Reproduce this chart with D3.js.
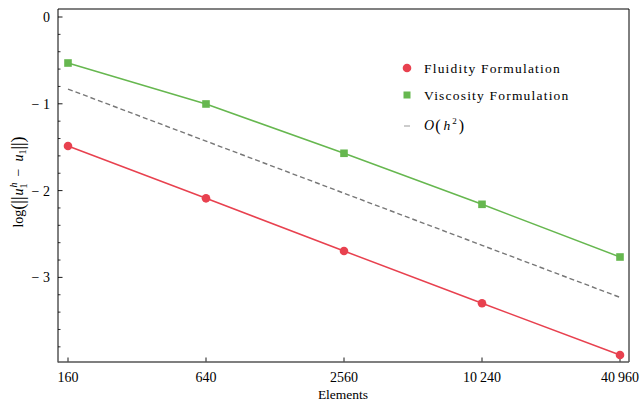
<!DOCTYPE html>
<html>
<head>
<meta charset="utf-8">
<script src="https://cdn.jsdelivr.net/npm/d3@7"></script>
<style>
  body { margin: 0; background: #fff; }
  text { font-family: "Liberation Serif", "DejaVu Serif", serif; }
</style>
</head>
<body>
<script>
// data
const elements = [160, 640, 2560, 10240, 40960];
const elementLabels = ["160", "640", "2560", "10\u2009240", "40\u2009960"];
const fluidity = [-1.486, -2.089, -2.696, -3.298, -3.894];
const viscosity = [-0.53, -1.002, -1.57, -2.158, -2.765];
const orderH2 = [-0.83, -1.43, -2.03, -2.63, -3.23];
const yMajor = [0, -1, -2, -3];
const yMinor = d3.range(1, 20).map(i => -i * 0.2).filter(v => Math.abs(v - Math.round(v)) > 0.01);

const W = 640, H = 404;
const mLeft = 58, mRight = 629, mTop = 9, mBottom = 362;

const svg = d3.select("body").append("svg")
  .attr("width", W).attr("height", H);

// log2 scale, 138px per factor of 4
const x = d3.scaleLog().base(2)
  .domain([160 / Math.pow(4, 10 / 138), 40960 * Math.pow(4, 9 / 138)])
  .range([mLeft, mRight]);
const y = d3.scaleLinear()
  .domain([(17 - mTop) / 86.8, -(mBottom - 17) / 86.8])
  .range([mTop, mBottom]);

const red = "#e8414f", green = "#66b74f", gray = "#777";

// frame
svg.append("line").attr("x1", mLeft).attr("x2", mRight).attr("y1", mTop).attr("y2", mTop)
  .attr("stroke", "#808080").attr("stroke-width", 2);
svg.append("line").attr("x1", mRight).attr("x2", mRight).attr("y1", mTop).attr("y2", mBottom)
  .attr("stroke", "#000").attr("stroke-width", 1);

// y axis ticks pointing inward
const ya = svg.append("g");
ya.selectAll(".minor").data(yMinor).enter().append("line")
  .attr("x1", mLeft).attr("x2", mLeft + 2.5)
  .attr("y1", d => y(d)).attr("y2", d => y(d))
  .attr("stroke", "#000").attr("stroke-width", 0.8);
ya.selectAll(".major").data(yMajor).enter().append("line")
  .attr("x1", mLeft).attr("x2", mLeft + 4.5)
  .attr("y1", d => y(d)).attr("y2", d => y(d))
  .attr("stroke", "#000").attr("stroke-width", 0.9);
ya.selectAll("text").data(yMajor).enter().append("text")
  .attr("x", mLeft - 8).attr("y", d => y(d) + 5)
  .attr("text-anchor", "end").attr("font-size", 14)
  .text(d => d === 0 ? "0" : "\u2212 " + Math.abs(d));
svg.append("line").attr("x1", mLeft).attr("x2", mLeft).attr("y1", mTop).attr("y2", mBottom + 0.5)
  .attr("stroke", "#000").attr("stroke-width", 1);

// x axis
const xa = svg.append("g");
xa.selectAll("line").data(elements).enter().append("line")
  .attr("x1", d => x(d)).attr("x2", d => x(d))
  .attr("y1", mBottom).attr("y2", mBottom - 4.5)
  .attr("stroke", "#000").attr("stroke-width", 0.9);
xa.selectAll("text").data(elements).enter().append("text")
  .attr("x", d => x(d)).attr("y", mBottom + 20)
  .attr("text-anchor", "middle").attr("font-size", 14)
  .text((d, i) => elementLabels[i]);
svg.append("line").attr("x1", mLeft).attr("x2", mRight).attr("y1", mBottom).attr("y2", mBottom)
  .attr("stroke", "#555").attr("stroke-width", 1.5);

// axis titles
svg.append("text").attr("x", 343).attr("y", 399)
  .attr("text-anchor", "middle").attr("font-size", 13.5).text("Elements");
const yl = svg.append("text")
  .attr("transform", "translate(23,182) rotate(-90)")
  .attr("text-anchor", "middle").attr("font-size", 14);
yl.append("tspan").text("log");
yl.append("tspan").attr("font-size", 18).attr("dy", 1).text("(||");
yl.append("tspan").attr("font-style", "italic").attr("dy", -1).attr("dx", 1).text("u");
yl.append("tspan").attr("font-size", 10).attr("dy", -6).attr("dx", 1).attr("font-style", "italic").text("h");
yl.append("tspan").attr("font-size", 10).attr("dy", 10).attr("dx", -6).text("1");
yl.append("tspan").attr("dy", -4).text("\u2002\u2212\u2002");
yl.append("tspan").attr("font-style", "italic").text("u");
yl.append("tspan").attr("font-size", 10).attr("dy", 3).text("1");
yl.append("tspan").attr("font-size", 18).attr("dy", -2).text("||)");

const line = d3.line().x((d, i) => x(elements[i])).y(d => y(d));

svg.append("path").datum(orderH2).attr("d", line)
  .attr("fill", "none").attr("stroke", gray).attr("stroke-width", 1.4)
  .attr("stroke-dasharray", "5,3");
svg.append("path").datum(viscosity).attr("d", line)
  .attr("fill", "none").attr("stroke", green).attr("stroke-width", 1.5);
svg.append("path").datum(fluidity).attr("d", line)
  .attr("fill", "none").attr("stroke", red).attr("stroke-width", 1.5);

svg.selectAll(".sq").data(viscosity).enter().append("rect")
  .attr("x", (d, i) => x(elements[i]) - 3.8).attr("y", d => y(d) - 3.8)
  .attr("width", 7.6).attr("height", 7.6).attr("fill", green);
svg.selectAll(".dot").data(fluidity).enter().append("circle")
  .attr("cx", (d, i) => x(elements[i])).attr("cy", d => y(d))
  .attr("r", 4.3).attr("fill", red);

// legend
const lg = svg.append("g").attr("font-size", 13.5).attr("letter-spacing", 1.2);
lg.append("circle").attr("cx", 407).attr("cy", 68).attr("r", 4.3).attr("fill", red);
lg.append("text").attr("x", 424).attr("y", 72.5).text("Fluidity Formulation");
lg.append("rect").attr("x", 403.5).attr("y", 91.5).attr("width", 7).attr("height", 7).attr("fill", green);
lg.append("text").attr("x", 424).attr("y", 99.5).text("Viscosity Formulation");
lg.append("line").attr("x1", 404).attr("x2", 410).attr("y1", 126).attr("y2", 126)
  .attr("stroke", "#999").attr("stroke-width", 1);
const ot = lg.append("text").attr("x", 424).attr("y", 130).attr("letter-spacing", 0);
ot.append("tspan").attr("font-style", "italic").attr("font-size", 14).text("O");
ot.append("tspan").attr("font-size", 16).attr("dy", 1).attr("dx", 1).text("(");
ot.append("tspan").attr("font-style", "italic").attr("dy", -1).attr("dx", 3).text("h");
ot.append("tspan").attr("font-size", 9).attr("dy", -6).attr("dx", 2).text("2");
ot.append("tspan").attr("font-size", 16).attr("dy", 7).attr("dx", 2).text(")");
</script>
</body>
</html>
